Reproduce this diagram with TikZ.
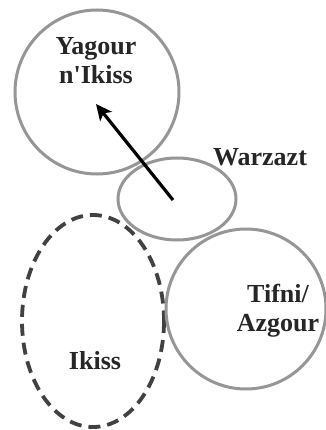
\documentclass[tikz,border=0pt]{standalone}
\usepackage{fontspec}
\setmainfont{Liberation Serif}[Ligatures=TeXOff]
\usetikzlibrary{arrows.meta}
\definecolor{ringgray}{RGB}{150,150,150}
\definecolor{dashgray}{RGB}{65,65,65}
\begin{document}
\begin{tikzpicture}[x=1pt,y=-1pt,
  ring/.style={draw=ringgray,line width=3pt},
  dashring/.style={draw=dashgray,line width=3.8pt,dash pattern=on 12pt off 7pt},
  lbl/.style={font=\fontsize{26}{29}\selectfont\bfseries,text=black!85,align=center,inner sep=0pt}]
\useasboundingbox (0,0) rectangle (325,430);
\fill[white] (0,0) rectangle (325,430);
\draw[ring] (97,92) circle[radius=82];
\draw[ring] (177,199) ellipse[x radius=59,y radius=41];
\draw[dashring] (93,321) ellipse[x radius=71,y radius=106];
\draw[ring] (246,309) circle[radius=80];
\node[lbl] (yag) at (96,61) {Yagour\\[0pt]n'Ikiss};
\node[lbl] (war) at (260,157) {Warzazt};
\node[lbl] (tif) at (278,311) {Tifni/\\[0pt]Azgour};
\node[lbl] (iki) at (95,361) {Ikiss};
\coordinate (from) at (173,200);
\coordinate (to) at (96,104);
\draw[line width=3.2pt,-{Stealth[length=16pt,width=15pt,inset=4pt]}] (from) -- (to);
\end{tikzpicture}
\end{document}
